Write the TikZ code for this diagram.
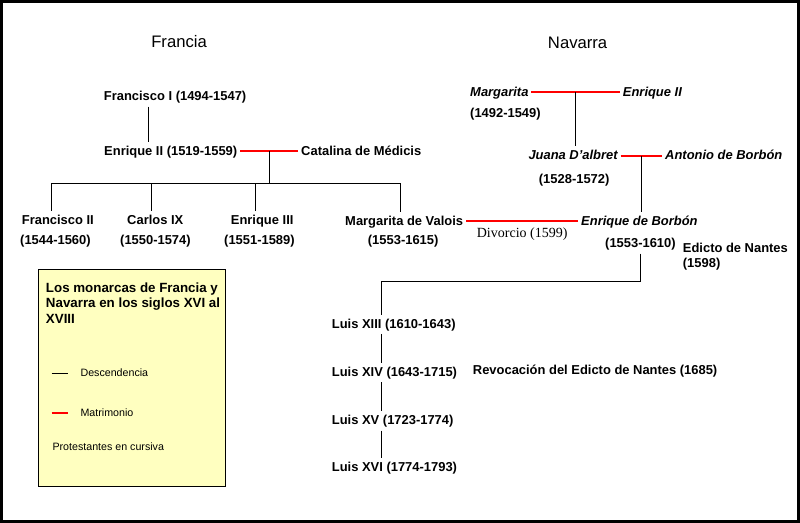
\documentclass[tikz,border=0pt]{standalone}
\usepackage{fontspec}
\setmainfont{Liberation Sans}
\newfontfamily\divfont{Liberation Serif}
\usetikzlibrary{calc}
\definecolor{leyenda}{RGB}{255,255,192}

\begin{document}
\begin{tikzpicture}[x=0.75pt,y=-0.75pt,
  rey/.style={anchor=base west, inner xsep=2pt, inner ysep=2pt, text height=8pt, text depth=2pt,
    font=\fontsize{9.7}{11}\selectfont\bfseries},
  prot/.style={rey, font=\fontsize{9.7}{11}\selectfont\bfseries\itshape},
  titulo/.style={anchor=base west, inner sep=0pt, font=\fontsize{12.5}{14}\selectfont},
  nota/.style={anchor=base west, inner sep=0pt, font=\fontsize{8}{9}\selectfont},
  desc/.style={black, line width=0.75pt},
  matri/.style={red, line width=1.4pt}]
  \useasboundingbox (0,0) rectangle (800,523);
  \fill[white] (0,0) rectangle (800,523);
  \draw[line width=2.25pt] (1.5,1.5) rectangle (798.5,521.5);

  % Titulos
  \node[titulo] (fra) at (151,47.7) {Francia};
  \node[titulo] (nav) at (547.7,49) {Navarra};

  % Francia
  \node[rey] (f1) at (101,101) {Francisco I (1494-1547)};
  \node[rey] (e2) at (101.3,155.3) {Enrique II (1519-1559)};
  \node[rey] (cat) at (298.3,155.3) {Catalina de Médicis};
  \node[rey] (fr2) at (19,225) {Francisco II};
  \node[rey] (fr2d) at (17.3,244.5) {(1544-1560)};
  \node[rey] (ca9) at (124.3,225) {Carlos IX};
  \node[rey] (ca9d) at (117.3,244.5) {(1550-1574)};
  \node[rey] (en3) at (228,224.5) {Enrique III};
  \node[rey] (en3d) at (221.3,244.5) {(1551-1589)};
  \node[rey] (mv) at (342.3,225.3) {Margarita de Valois};
  \node[rey] (mvd) at (365,245) {(1553-1615)};

  % Navarra
  \node[prot] (marg) at (467.3,96.3) {Margarita};
  \node[rey] (margd) at (467.3,117.3) {(1492-1549)};
  \node[prot] (enr2) at (620,96.3) {Enrique II};
  \node[prot] (jua) at (525.6,160) {Juana D'albret};
  \node[rey] (juad) at (536,184) {(1528-1572)};
  \node[prot] (ant) at (662.3,160) {Antonio de Borbón};
  \node[prot] (eb) at (578.3,225.3) {Enrique de Borbón};
  \node[rey] (ebd) at (602.3,248) {(1553-1610)};
  \node[rey] (ed) at (680,252.3) {Edicto de Nantes};
  \node[rey] (edd) at (680,268) {(1598)};

  % Borbones
  \node[rey] (l13) at (329,328.3) {Luis XIII (1610-1643)};
  \node[rey] (l14) at (329,376.7) {Luis XIV (1643-1715)};
  \node[rey] (l15) at (329,425) {Luis XV (1723-1774)};
  \node[rey] (l16) at (329,471.7) {Luis XVI (1774-1793)};
  \node[rey] (rev) at (470,375) {Revocación del Edicto de Nantes (1685)};

  % Matrimonios
  \draw[matri] (e2.east) -- (cat.west);
  \draw[matri] (marg.east) -- (enr2.west);
  \draw[matri] (jua.east) -- (ant.west);
  \draw[matri] (mv.east) -- (eb.west)
    node[midway, anchor=base, yshift=-12.5pt, inner sep=0pt, black,
      font=\fontsize{10.5}{12}\divfont] (div) {Divorcio (1599)};

  % Descendencia
  \coordinate (m1) at ($(e2.east)!.5!(cat.west)$);
  \coordinate (m2) at ($(marg.east)!.5!(enr2.west)$);
  \coordinate (m3) at ($(jua.east)!.5!(ant.west)$);
  \coordinate (bar) at (m1 |- 0,183.5);
  \coordinate (lx) at (381.5,281.5);
  \draw[desc] (f1.south -| 148.5,0) -- (e2.north -| 148.5,0);
  \draw[desc] (m1) -- (bar);
  \draw[desc] (bar -| 51.5,0) -- (bar -| 400.5,0);
  \foreach \n/\x in {fr2/51.5, ca9/151.5, en3/255.5, mv/400.5}
    \draw[desc] (bar -| \x,0) -- (\n.north -| \x,0);
  \draw[desc] (m2) -- (m2 |- jua.north);
  \draw[desc] (m3) -- (m3 |- eb.north);
  \draw[desc] (ebd.south) |- (lx) -- (l13.north -| lx);
  \foreach \a/\b in {l13/l14, l14/l15, l15/l16}
    \draw[desc] (\a.south -| lx) -- (\b.north -| lx);

  % Leyenda
  \draw[fill=leyenda, line width=0.75pt] (38.5,269.5) rectangle (225.5,486.5);
  \node[anchor=north west, inner sep=0pt, align=left,
    font=\fontsize{10}{11.6}\selectfont\bfseries] (ley) at (45.7,282.3)
    {Los monarcas de Francia y\\Navarra en los siglos XVI al\\XVIII};
  \draw[desc] (51.7,373.5) -- (67.7,373.5);
  \node[nota] (ldesc) at (80.3,376.7) {Descendencia};
  \draw[matri] (51.7,413.3) -- (67.7,413.3);
  \node[nota] (lmat) at (80.3,416.7) {Matrimonio};
  \node[nota] (lprot) at (52.3,450.7) {Protestantes en cursiva};
\end{tikzpicture}
\end{document}
